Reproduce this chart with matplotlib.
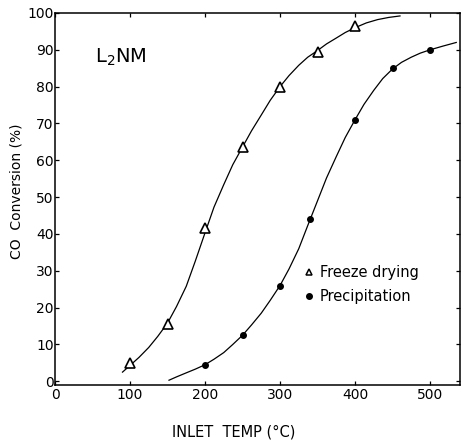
import matplotlib
matplotlib.use("Agg")
import matplotlib.pyplot as plt
from matplotlib.lines import Line2D

# Measured data points
fd_temp = [100, 150, 200, 250, 300, 350, 400]
fd_conv = [5, 15.5, 41.5, 63.5, 80, 89.5, 96.5]

pr_temp = [200, 250, 300, 340, 400, 450, 500]
pr_conv = [4.5, 12.5, 26, 44, 71, 85, 90]

# Hand-drawn fit curves
fd_curve_x = [90, 100, 112, 125, 137, 150, 162, 175, 187, 200, 212, 225, 237, 250,
              262, 275, 287, 300, 312, 325, 337, 350, 362, 375, 387, 400, 415, 430,
              445, 460]
fd_curve_y = [2.5, 4.3, 6.5, 9.2, 12.2, 15.8, 20.3, 25.8, 32.6, 40.3, 47.3, 53.4,
              58.8, 63.6, 68, 72.3, 76.3, 80, 83, 85.8, 88, 89.8, 91.6, 93.2, 94.7,
              96, 97.3, 98.2, 98.8, 99.2]

pr_curve_x = [152, 162, 175, 187, 200, 212, 225, 237, 250, 262, 275, 287, 300, 312,
              325, 337, 350, 362, 375, 387, 400, 412, 425, 437, 450, 462, 475, 487,
              500, 517, 535]
pr_curve_y = [0.3, 1.2, 2.3, 3.3, 4.5, 6, 7.8, 10, 12.5, 15.3, 18.5, 22, 26, 30.5,
              36, 42.3, 49, 55.2, 61, 66.2, 71, 75.2, 79, 82.2, 84.8, 86.6, 88, 89.1,
              90, 91, 92]

xticks = [0, 100, 200, 300, 400, 500]
yticks = [0, 10, 20, 30, 40, 50, 60, 70, 80, 90, 100]

plt.rcParams['font.family'] = ['DejaVu Sans']

fig = plt.figure(figsize=(4.63, 4.42), dpi=100)
ax = fig.add_axes([55/463, 57/442, 405/463, 372/442])

ax.plot(fd_curve_x, fd_curve_y, color='black', lw=0.9)
ax.plot(pr_curve_x, pr_curve_y, color='black', lw=0.9)
ax.plot(fd_temp, fd_conv, linestyle='none', marker='^', markersize=6.5,
        markerfacecolor='white', markeredgecolor='black', markeredgewidth=1.2)
ax.plot(pr_temp, pr_conv, linestyle='none', marker='o', markersize=4,
        markerfacecolor='black', markeredgecolor='black')

ax.set_xlim(0, 540)
ax.set_ylim(-1, 100)
ax.set_xticks(xticks)
ax.set_yticks(yticks)
ax.tick_params(direction='in', length=3, width=0.9, labelsize=10,
               top=True, right=True, pad=2)
ax.tick_params(axis='y', pad=1)
for s in ax.spines.values():
    s.set_linewidth(1.1)

ax.set_xlabel('INLET  TEMP (°C)', fontsize=10.5)
ax.xaxis.set_label_coords((234 - 55) / 405, -0.105)
ax.set_ylabel('CO  Conversion (%)', fontsize=10)
ax.yaxis.set_label_coords(-0.078, 0.52)

ax.text(88, 88, 'L$_2$NM', fontsize=14, ha='center', va='center')

handles = [
    Line2D([], [], linestyle='none', marker='^', markersize=5,
           markerfacecolor='white', markeredgecolor='black', markeredgewidth=1.1),
    Line2D([], [], linestyle='none', marker='o', markersize=4,
           markerfacecolor='black', markeredgecolor='black'),
]
ax.legend(handles, ['Freeze drying', 'Precipitation'], frameon=False,
          fontsize=10.5, handlelength=0.6, handletextpad=0.4, labelspacing=0.6,
          loc='upper left', bbox_to_anchor=((305 - 55) / 405, (385 - 265) / 372),
          borderaxespad=0, borderpad=0)

fig.savefig('out.png', dpi=100)
